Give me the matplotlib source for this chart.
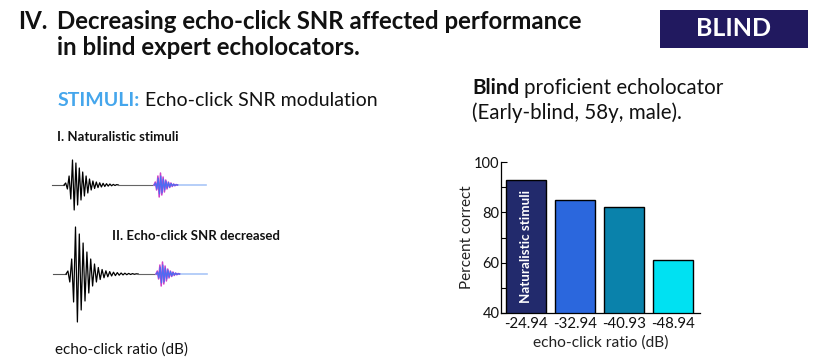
import numpy as np
import matplotlib.pyplot as plt

plt.rcParams['font.family'] = ['Lato', 'DejaVu Sans']

# ---- bar chart data ----
labels = ['-24.94', '-32.94', '-40.93', '-48.94']
percent = [93, 85, 82, 61]
bar_colors = ['#222a6c', '#2b67dd', '#0a82ab', '#00e1f2']
yticks_major = [40, 60, 80, 100]
yticks_minor = [50, 70, 90]

# ---- waveform illustration data (alternating extremes, pixel-ish amplitude) ----
click1 = [0, 2, -4, 9, -14, 25, -25, 22, -20, 17, -15, 13, -11, 9, -8, 6, -5, 4, -3.5,
          3, -2.6, 2.2, -2, 1.7, -1.5, 1.3, -1.1, 1, -0.8, 0.6, -0.5, 0.4, 0]
click2 = [0, 3, -8, 15, -28, 47, -48, 40, -36, 31, -27, 22, -19, 15, -12, 10, -8, 6.5,
          -5.5, 4.5, -3.8, 3.2, -2.8, 2.4, -2, 1.8, -1.6, 1.4, -1.2, 1, -0.9, 0.8,
          -0.7, 0.6, -0.5, 0.4, -0.3, 0.2, 0]
echo_mag = [0, 3, -5, 9, -12, 12, -10, 8, -7, 5, -4, 3, -2.5, 2, -1.5, 1, -0.8, 0.5, 0]
echo_blue = [0, 2, -4, 7, -9, 9, -8, 6, -5, 4, -3, 2.5, -2, 1.5, -1, 0.8, -0.5, 0.3, 0]

W, H = 819, 364
fig = plt.figure(figsize=(W / 100, H / 100), dpi=100)
fig.patch.set_facecolor('white')
renderer = fig.canvas.get_renderer()


def px_axes(x0, y0, x1, y1):
    return fig.add_axes([x0 / W, 1 - y1 / H, (x1 - x0) / W, (y1 - y0) / H])


def ftext(x, y, s, **kw):
    kw.setdefault('va', 'baseline')
    kw.setdefault('ha', 'left')
    kw.setdefault('color', '#111111')
    return fig.text(x / W, 1 - y / H, s, **kw)


# ---- texts ----
ftext(18, 29, 'IV.', fontsize=17.3, fontweight='bold')
ftext(57, 29, 'Decreasing echo-click SNR affected performance', fontsize=17.3, fontweight='bold')
ftext(57, 55, 'in blind expert echolocators.', fontsize=17.3, fontweight='bold')

# BLIND badge
bax = px_axes(660, 10, 808, 48)
bax.set_xlim(0, 1); bax.set_ylim(0, 1)
bax.set_facecolor('#21195f')
for s in bax.spines.values():
    s.set_visible(False)
bax.set_xticks([]); bax.set_yticks([])
bax.text(0.5, 0.5, 'BLIND', color='white', fontsize=18, fontweight='bold', ha='center', va='center')

t1 = ftext(58, 106.5, 'STIMULI:', fontsize=14, color='#45a6ec', fontweight='bold')
bb = t1.get_window_extent(renderer)
ftext(bb.x1 + 5, 106.5, 'Echo-click SNR modulation', fontsize=14)

t2 = ftext(472, 94, 'Blind', fontsize=14.8, fontweight='bold')
bb2 = t2.get_window_extent(renderer)
ftext(bb2.x1 + 5, 94, 'proficient echolocator', fontsize=14.8)
ftext(472, 119, '(Early-blind, 58y, male).', fontsize=14.8)

ftext(57, 141.5, 'I. Naturalistic stimuli', fontsize=9.5, fontweight='bold')
ftext(112, 240, 'II. Echo-click SNR decreased', fontsize=9.5, fontweight='bold')
ftext(55, 354, 'echo-click ratio (dB)', fontsize=11)


# ---- waveforms ----
def draw_wave(y0, y1, click, c_start, c_step, flat_start, echo_start, end, amp):
    ax = px_axes(40, y0, 220, y1)
    ax.set_xlim(40, 220)
    ax.set_ylim(-amp, amp)
    ax.axis('off')
    cx = c_start + c_step * np.arange(len(click))
    ax.plot([flat_start, c_start], [0, 0], color='#555555', lw=0.8)
    ax.plot(cx, click, color='black', lw=0.9)
    ax.plot([cx[-1], echo_start], [0, 0], color='#666666', lw=0.8)
    ex = echo_start + 1.3 * np.arange(len(echo_mag))
    ax.plot([echo_start, end], [0, 0], color='#a9c6f7', lw=1.2)
    ax.plot(ex, echo_mag, color='#d040c8', lw=1.1)
    ax.plot(ex + 0.3, echo_blue, color='#4d6cf2', lw=0.9)


draw_wave(150, 220, click1, 64, 1.7, 52, 154, 206, 35)
draw_wave(222, 326, click2, 66, 1.9, 53, 156, 207, 52)

# ---- bar chart ----
ax = px_axes(501, 162, 700, 313)
x = np.arange(len(labels))
ax.bar(x, percent, width=0.8, color=bar_colors, edgecolor='black', linewidth=1.0, zorder=2)
ax.set_xlim(-0.51, 3.55)
ax.set_ylim(40, 100)
ax.spines['top'].set_visible(False)
ax.spines['right'].set_visible(False)
ax.spines['left'].set_linewidth(0.9)
ax.spines['bottom'].set_linewidth(0.9)
ax.set_yticks(yticks_major)
ax.set_yticks(yticks_minor, minor=True)
ax.tick_params(axis='y', which='both', direction='in', length=4, width=0.8, labelsize=10.5,
               labelcolor='#111111', pad=1)
ax.set_xticks(x)
ax.set_xticklabels(labels)
ax.tick_params(axis='x', length=0, labelsize=10.8, labelcolor='#111111', pad=3)
ax.set_ylabel('Percent correct', fontsize=11, color='#222222', labelpad=0)
ax.set_xlabel('echo-click ratio (dB)', fontsize=11.2, color='#222222', labelpad=3)
ax.text(x[0], 66.4, 'Naturalistic stimuli', rotation=90, color='white', fontsize=9.6,
        fontweight='bold', ha='center', va='center', zorder=3)

fig.savefig('out.png', dpi=100)
